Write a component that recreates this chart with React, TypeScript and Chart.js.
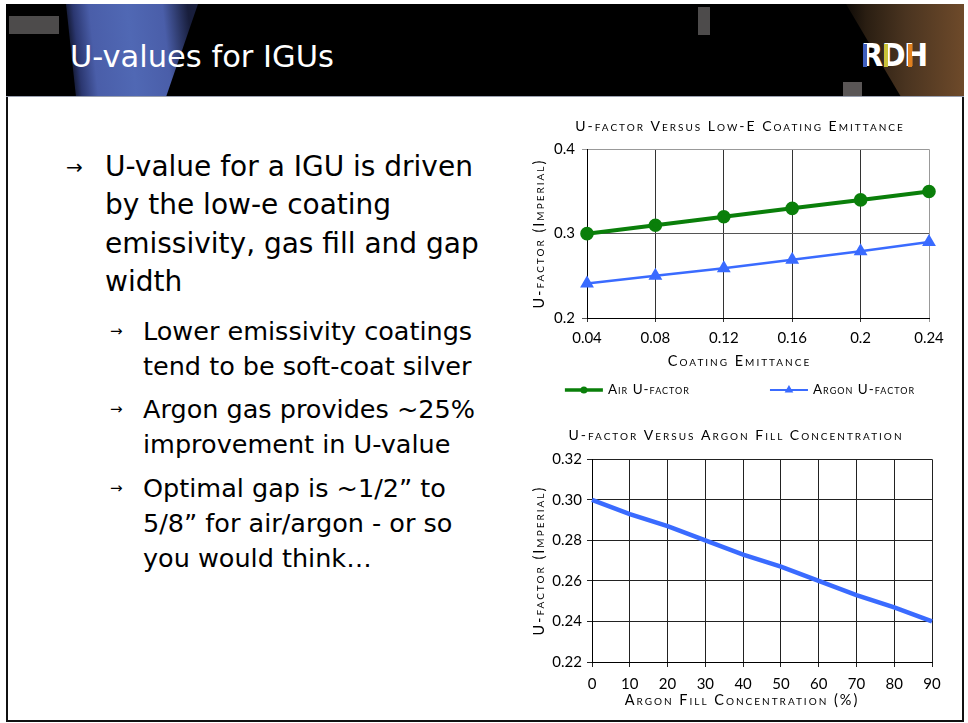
import React, { useEffect, useRef } from 'react';
import { Chart, registerables } from 'chart.js';

Chart.register(...registerables);

// ---------- data ----------
const emittanceLabels = ['0.04', '0.08', '0.12', '0.16', '0.2', '0.24'];
const airUFactor = [0.3, 0.31, 0.32, 0.33, 0.34, 0.35];
const argonUFactor = [0.241, 0.25, 0.259, 0.269, 0.279, 0.29];

const argonConcentration = [0, 10, 20, 30, 40, 50, 60, 70, 80, 90];
const fillUFactor = [0.3, 0.293, 0.287, 0.28, 0.273, 0.267, 0.26, 0.253, 0.247, 0.24];

const topTitle = 'U-factor Versus Low-E Coating Emittance';
const bottomTitle = 'U-factor Versus Argon Fill Concentration';
const yTitle = 'U-factor (Imperial)';
const topXTitle = 'Coating Emittance';
const bottomXTitle = 'Argon Fill Concentration (%)';
const airLabel = 'Air U-factor';
const argonLabel = 'Argon U-factor';

const FONT = 'Lato, "Open Sans", sans-serif';
const SC = 'small-caps 400';

const GREEN = '#0a7f0a';
const BLUE = '#3a6bff';

// letter spacing for the chart title and axis titles, plus a horizontal shift for the x-axis title
const spacingPlugin = {
  id: 'titleSpacing',
  afterLayout(chart: any, _args: any, opts: any) {
    const ctx = chart.ctx;
    const wrap = (obj: any, key: string, ls: string, dx: number) => {
      if (!obj || obj['__wrapped_' + key]) return;
      const orig = obj[key].bind(obj);
      obj[key] = (...a: any[]) => {
        ctx.save();
        ctx.letterSpacing = ls;
        ctx.translate(dx, 0);
        orig(...a);
        ctx.restore();
      };
      obj['__wrapped_' + key] = true;
    };
    wrap(chart.titleBlock, 'draw', opts.title || '0px', 0);
    Object.values(chart.scales).forEach((s: any) =>
      wrap(s, 'drawTitle', opts.axis || '0px', s.axis === 'x' ? opts.xShift || 0 : 0)
    );
  },
};

// legend with line + marker icons, drawn on the chart canvas
const lineLegendPlugin = {
  id: 'lineLegend',
  afterDraw(chart: any, _args: any, opts: any) {
    if (!opts || !opts.display) return;
    const ctx = chart.ctx;
    ctx.save();
    ctx.font = opts.font;
    ctx.letterSpacing = opts.letterSpacing || '0px';
    const ds = chart.data.datasets;
    const iconW = opts.iconWidth;
    const gap = opts.textGap;
    const spacing = opts.itemGap;
    const widths = ds.map((d: any) => iconW + gap + ctx.measureText(d.label).width);
    const total = widths.reduce((a: number, b: number) => a + b, 0) + spacing * (ds.length - 1);
    let x = chart.width / 2 - total / 2;
    const y = opts.y;
    ds.forEach((d: any, i: number) => {
      ctx.strokeStyle = d.borderColor;
      ctx.lineWidth = opts.lineWidths[i];
      ctx.beginPath();
      ctx.moveTo(x, y);
      ctx.lineTo(x + iconW, y);
      ctx.stroke();
      const cx = x + iconW / 2;
      const r = opts.markerRadius[i];
      ctx.fillStyle = d.pointBackgroundColor;
      ctx.beginPath();
      if (d.pointStyle === 'triangle') {
        ctx.moveTo(cx, y - r);
        ctx.lineTo(cx + r * 0.866, y + r * 0.5);
        ctx.lineTo(cx - r * 0.866, y + r * 0.5);
        ctx.closePath();
      } else {
        ctx.arc(cx, y, r, 0, Math.PI * 2);
      }
      ctx.fill();
      ctx.fillStyle = opts.color;
      ctx.textBaseline = 'middle';
      ctx.textAlign = 'left';
      ctx.fillText(d.label, x + iconW + gap, y);
      x += widths[i] + spacing;
    });
    ctx.restore();
  },
};

const tickFont = { family: FONT, size: 15 };
const titleFont = { family: FONT, size: 14, weight: SC };
const axisTitleFont = { family: FONT, size: 14.5, weight: SC };

function TopChart() {
  const ref = useRef<HTMLCanvasElement>(null);
  useEffect(() => {
    if (!ref.current) return;
    const chart = new Chart(ref.current, {
      type: 'line',
      data: {
        labels: emittanceLabels,
        datasets: [
          {
            label: airLabel,
            data: airUFactor,
            borderColor: GREEN,
            backgroundColor: GREEN,
            pointBackgroundColor: GREEN,
            pointBorderColor: GREEN,
            borderWidth: 4,
            pointRadius: 4.8,
            pointStyle: 'circle',
            tension: 0,
            clip: false,
          },
          {
            label: argonLabel,
            data: argonUFactor,
            borderColor: BLUE,
            backgroundColor: BLUE,
            pointBackgroundColor: BLUE,
            pointBorderColor: BLUE,
            borderWidth: 2.5,
            pointRadius: 5.5,
            pointStyle: 'triangle',
            tension: 0,
            clip: false,
          },
        ],
      },
      options: {
        animation: false,
        responsive: false,
        maintainAspectRatio: false,
        layout: { padding: { left: 0, right: 0, top: 0, bottom: 20 } },
        plugins: {
          legend: { display: false },
          tooltip: { enabled: false },
          title: {
            display: true,
            text: topTitle,
            color: '#000',
            font: titleFont,
            padding: { top: 8.5, bottom: 14 },
          },
          titleSpacing: { title: '2px', axis: '2px', xShift: -18.5 },
          lineLegend: {
            display: true,
            font: SC + ' 13.5px ' + FONT,
            letterSpacing: '1px',
            iconWidth: 38,
            textGap: 5,
            itemGap: 80,
            y: 280,
            color: '#000',
            lineWidths: [3.5, 2],
            markerRadius: [3.5, 5],
          },
        } as any,
        scales: {
          x: {
            type: 'category',
            offset: false,
            grid: {
              color: (c: any) => (c.index === emittanceLabels.length - 1 ? '#999' : '#333'),
              tickLength: 4,
            },
            border: { color: '#000' },
            ticks: { color: '#000', font: tickFont, padding: 7, autoSkip: false, maxRotation: 0 },
            title: {
              display: true,
              text: topXTitle,
              color: '#000',
              font: axisTitleFont,
              padding: { top: 0, bottom: 10 },
            },
            afterFit: (s: any) => {
              s.height = 62;
              s.paddingRight = 31;
            },
          },
          y: {
            min: 0.2,
            max: 0.4,
            grid: {
              color: (c: any) => (c.tick && Math.abs(c.tick.value - 0.4) < 1e-6 ? '#999' : '#555'),
              tickLength: 5,
            },
            border: { color: '#000' },
            ticks: { stepSize: 0.1, color: '#000', font: tickFont, padding: 7 },
            title: {
              display: true,
              text: yTitle,
              color: '#000',
              font: axisTitleFont,
              padding: { top: 11, bottom: 0 },
            },
            afterFit: (s: any) => {
              s.width = 67;
            },
          },
        },
      },
      plugins: [spacingPlugin, lineLegendPlugin],
    } as any);
    return () => chart.destroy();
  }, []);
  return (
    <canvas
      ref={ref}
      width={440}
      height={290}
      style={{ position: 'absolute', left: 520, top: 110, width: 440, height: 290 }}
    />
  );
}

function BottomChart() {
  const ref = useRef<HTMLCanvasElement>(null);
  useEffect(() => {
    if (!ref.current) return;
    const chart = new Chart(ref.current, {
      type: 'line',
      data: {
        datasets: [
          {
            label: argonLabel,
            data: argonConcentration.map((x, i) => ({ x, y: fillUFactor[i] })),
            borderColor: BLUE,
            backgroundColor: BLUE,
            borderWidth: 4.5,
            pointRadius: 0,
            tension: 0,
            clip: false,
          },
        ],
      },
      options: {
        animation: false,
        responsive: false,
        maintainAspectRatio: false,
        layout: { padding: { left: 0, right: 8, top: 0, bottom: 0 } },
        plugins: {
          legend: { display: false },
          tooltip: { enabled: false },
          title: {
            display: true,
            text: bottomTitle,
            color: '#000',
            font: titleFont,
            padding: { top: 7.5, bottom: 15 },
          },
          titleSpacing: { title: '2px', axis: '2px', xShift: -20 },
        } as any,
        scales: {
          x: {
            type: 'linear',
            min: 0,
            max: 90,
            grid: { color: '#222', tickLength: 5 },
            border: { color: '#000' },
            ticks: { stepSize: 10, color: '#000', font: tickFont, padding: 8, maxRotation: 0 },
            title: {
              display: true,
              text: bottomXTitle,
              color: '#000',
              font: axisTitleFont,
              padding: { top: 0, bottom: 11 },
            },
            afterFit: (s: any) => {
              s.height = 58;
              s.paddingRight = 28;
            },
          },
          y: {
            min: 0.22,
            max: 0.32,
            grid: { color: '#222', tickLength: 5 },
            border: { color: '#000' },
            ticks: {
              stepSize: 0.02,
              color: '#000',
              font: tickFont,
              padding: 5,
              callback: (v: any) => Number(v).toFixed(2),
            },
            title: {
              display: true,
              text: yTitle,
              color: '#000',
              font: axisTitleFont,
              padding: { top: 11, bottom: 0 },
            },
            afterFit: (s: any) => {
              s.width = 72;
            },
          },
        },
      },
      plugins: [spacingPlugin],
    } as any);
    return () => chart.destroy();
  }, []);
  return (
    <canvas
      ref={ref}
      width={440}
      height={300}
      style={{ position: 'absolute', left: 520, top: 420, width: 440, height: 300 }}
    />
  );
}

const bodyFont = '"DejaVu Sans", Verdana, sans-serif';

export default function App() {
  const abs = (s: React.CSSProperties): React.CSSProperties => ({ position: 'absolute', ...s });
  return (
    <div style={abs({ left: 0, top: 0, width: 968, height: 723, background: '#fff', overflow: 'hidden' })}>
      {/* slide frame */}
      <div style={abs({ left: 6, top: 4, width: 958, height: 718, border: '2.5px solid #111', boxSizing: 'border-box' })} />
      {/* header */}
      <div style={abs({ left: 6, top: 4, width: 958, height: 93, background: '#000', overflow: 'hidden' })}>
        <div
          style={abs({
            left: 0,
            top: 0,
            width: 260,
            height: 93,
            background:
              'linear-gradient(84deg, rgba(0,0,0,0) 62px, #2b3770 76px, #4a5ea9 92px, #5068b4 130px, #4a5ea9 165px, rgba(40,50,100,0.6) 190px)',
            clipPath: 'polygon(60px 0, 192px 0, 160px 93px, 70px 93px)',
          })}
        />
        <div
          style={abs({
            left: 0,
            top: 0,
            width: 958,
            height: 93,
            background: 'linear-gradient(to right, rgba(0,0,0,0) 830px, #2a1e12 860px, #4a3420 900px, #6e4a2a 958px)',
            clipPath: 'polygon(840px 0, 958px 0, 958px 93px, 895px 93px)',
          })}
        />
        <div style={abs({ left: 3, top: 12, width: 50, height: 18, background: '#4d4b4b' })} />
        <div style={abs({ left: 692, top: 3, width: 12, height: 28, background: '#4d4b4b' })} />
        <div style={abs({ left: 837, top: 78, width: 19, height: 15, background: '#5a5656' })} />
        <div style={abs({ left: 0, top: 92, width: 958, height: 1, background: '#9aa0b0' })} />
      </div>
      <div
        style={abs({
          left: 70,
          top: 37,
          color: '#fff',
          fontFamily: bodyFont,
          fontSize: 30.5,
          lineHeight: '40px',
          whiteSpace: 'nowrap',
        })}
      >
        U-values for IGUs
      </div>
      {/* RDH logo */}
      <div
        style={abs({
          left: 861,
          top: 36,
          color: '#fff',
          fontFamily: '"DejaVu Sans Condensed", "DejaVu Sans", sans-serif',
          fontWeight: 'bold',
          fontSize: 32,
          lineHeight: '38px',
          letterSpacing: -1.5,
          whiteSpace: 'nowrap',
        })}
      >
        RDH
      </div>
      <div style={abs({ left: 863, top: 44, width: 4, height: 23, background: '#3f5fbf' })} />
      <div style={abs({ left: 884, top: 44, width: 4, height: 23, background: '#c9c23a' })} />
      <div style={abs({ left: 908, top: 44, width: 4, height: 23, background: '#e0801e' })} />

      {/* bullets */}
      <div style={abs({ left: 66, top: 148, fontFamily: bodyFont, fontSize: 20, lineHeight: '38.3px' })}>→</div>
      <div
        style={abs({
          left: 105,
          top: 148,
          fontFamily: bodyFont,
          fontSize: 28,
          lineHeight: '38.3px',
          whiteSpace: 'nowrap',
          color: '#000',
        })}
      >
        U-value for a IGU is driven
        <br />
        by the low-e coating
        <br />
        emissivity, gas fill and gap
        <br />
        width
      </div>

      {[
        { top: 314, lines: ['Lower emissivity coatings', 'tend to be soft-coat silver'] },
        { top: 392, lines: ['Argon gas provides ~25%', 'improvement in U-value'] },
        { top: 470.5, lines: ['Optimal gap is ~1/2” to', '5/8” for air/argon - or so', 'you would think…'] },
      ].map((b, i) => (
        <React.Fragment key={i}>
          <div style={abs({ left: 110, top: b.top, fontFamily: bodyFont, fontSize: 15, lineHeight: '35px' })}>→</div>
          <div
            style={abs({
              left: 143,
              top: b.top,
              fontFamily: bodyFont,
              fontSize: 25.5,
              lineHeight: '35px',
              whiteSpace: 'nowrap',
              color: '#000',
            })}
          >
            {b.lines.map((l, j) => (
              <div key={j}>{l}</div>
            ))}
          </div>
        </React.Fragment>
      ))}

      <TopChart />
      <BottomChart />
    </div>
  );
}
